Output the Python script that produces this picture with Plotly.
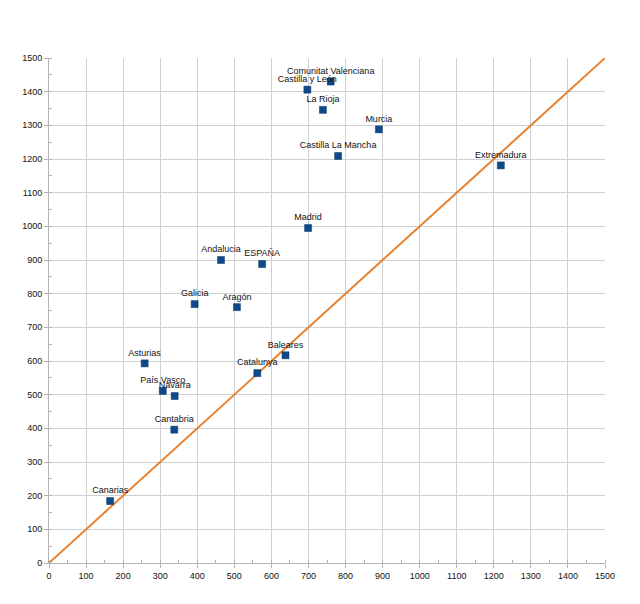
import plotly.graph_objects as go

# regions: x and y values
regions = [
    "Comunitat Valenciana", "Castilla y León", "La Rioja", "Murcia",
    "Castilla La Mancha", "Extremadura", "Madrid", "Andalucia", "ESPAÑA",
    "Galicia", "Aragón", "Asturias", "País Vasco", "Navarra", "Cantabria",
    "Catalunya", "Baleares", "Canarias",
]
x_vals = [760, 697, 739, 890, 780, 1219, 699, 464, 575,
          393, 507, 258, 307, 339, 338, 562, 638, 165]
y_vals = [1430, 1406, 1346, 1288, 1209, 1181, 995, 900, 888,
          769, 760, 593, 511, 496, 396, 564, 617, 184]

# reference line y = x
line_x = [0, 1500]
line_y = [0, 1500]
tick_vals = list(range(0, 1501, 100))

fig = go.Figure()
fig.add_trace(go.Scatter(
    x=line_x, y=line_y, mode="lines",
    line=dict(color="#E8822E", width=2),
    hoverinfo="skip", showlegend=False,
))
fig.add_trace(go.Scatter(
    x=x_vals, y=y_vals, mode="markers+text",
    text=regions, textposition="top center",
    textfont=dict(family="Liberation Sans, Arial", size=9, color="#111111"),
    marker=dict(symbol="square", size=7, color="#0E4A8A",
                line=dict(color="#0A3566", width=0.5)),
    showlegend=False,
))

axis_common = dict(
    range=[0, 1500], tickvals=tick_vals,
    showgrid=True, gridcolor="#D0D0D0", gridwidth=1,
    showline=True, linecolor="#B3B3B3", linewidth=1,
    ticks="outside", ticklen=4, tickcolor="#B3B3B3",
    minor=dict(dtick=50, ticks="inside", ticklen=3, tickcolor="#B3B3B3", showgrid=False),
    zeroline=False, automargin=False,
    tickfont=dict(family="Liberation Sans, Arial", size=9, color="#111111"),
)

# page body adds an 8px offset, margins compensate for it
fig.update_layout(
    width=640, height=604,
    margin=dict(l=41, r=43, t=50, b=49),
    paper_bgcolor="white", plot_bgcolor="white",
    xaxis=axis_common,
    yaxis=axis_common,
)

fig.write_html("out.html")
